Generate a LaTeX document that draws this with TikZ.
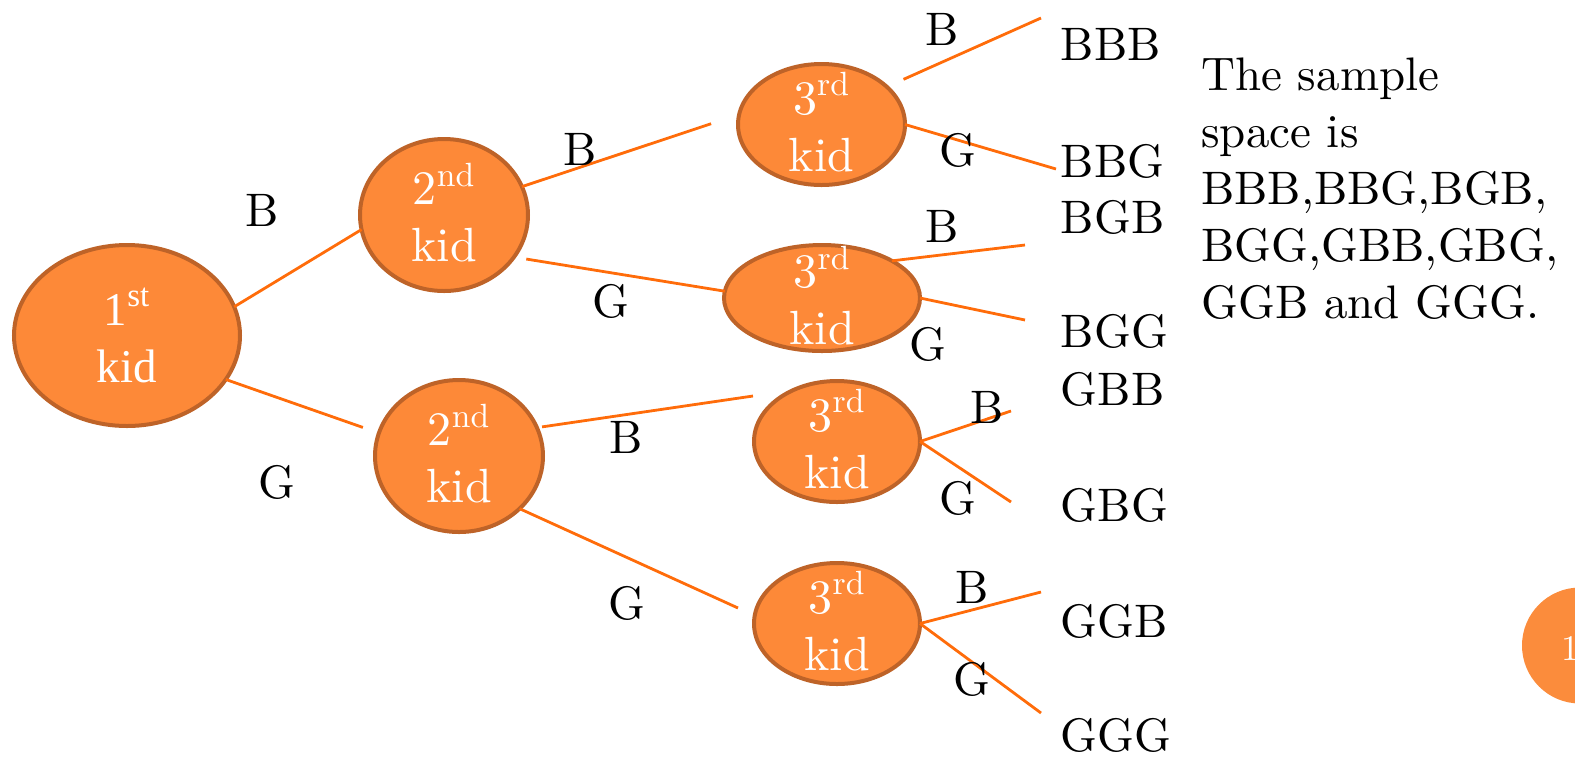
\documentclass[tikz,border=0pt]{standalone}
\usepackage{fontspec}
\setmainfont{lmroman10-regular}[Extension=.otf]
\newfontfamily\timesfont{Liberation Serif}
\usetikzlibrary{shapes.geometric}

\definecolor{kidfill}{RGB}{253,137,56}
\definecolor{kidedge}{RGB}{190,99,40}
\definecolor{branchcol}{RGB}{255,108,10}
\definecolor{pagefill}{RGB}{251,140,60}

% two-line caption of a child node, hung so that "kid" sits below the centre
\newcommand{\kidtext}[2]{\raisebox{-23.25pt}[0pt][0pt]{\begin{tabular}[b]{@{}c@{}}#1\textsuperscript{#2}\\kid\end{tabular}}}

\begin{document}
\begin{tikzpicture}[x=0.5pt,y=-0.5pt,
  kid/.style={ellipse, draw=kidedge, line width=2pt, fill=kidfill,
    inner sep=0pt, outer sep=0pt, text=white,
    font=\fontsize{24}{28.5}\selectfont},
  firstkid/.style={kid, font=\timesfont\fontsize{23.5}{28.5}\selectfont},
  branch/.style={draw=branchcol, line width=1.4pt},
  choice/.style={inner sep=0pt, anchor=base, font=\fontsize{23.5}{28.5}\selectfont},
  outcome/.style={inner sep=0pt, anchor=base west, font=\fontsize{23.5}{28.5}\selectfont}]
\useasboundingbox (0,0) rectangle (1575,757);

% the tree of children
\node[firstkid, minimum width=113pt, minimum height=90.5pt] (n1) at (127,335.5) {\kidtext{1}{st}};
\node[kid, minimum width=84pt, minimum height=76pt] (n2a) at (444,215) {\kidtext{2}{nd}};
\node[kid, minimum width=84pt, minimum height=76pt] (n2b) at (459,456) {\kidtext{2}{nd}};
\node[kid, minimum width=83.5pt, minimum height=60.5pt] (n3a) at (821.5,124.5) {\kidtext{3}{rd}};
\node[kid, minimum width=98pt, minimum height=53pt] (n3b) at (822,298) {\kidtext{3}{rd}};
\node[kid, minimum width=83pt, minimum height=60.5pt] (n3c) at (837,441.5) {\kidtext{3}{rd}};
\node[kid, minimum width=83pt, minimum height=60.5pt] (n3d) at (837,623.5) {\kidtext{3}{rd}};

% loose branch ends
\coordinate (e3c) at (753,396);
\coordinate (e3d) at (738,608);
\coordinate (eBBB) at (1041,18);
\coordinate (eBBG) at (1056,169);
\coordinate (eBGB) at (1025,245);
\coordinate (eBGG) at (1025,320);
\coordinate (eGBB) at (1011,411);
\coordinate (eGBG) at (1011,502);
\coordinate (eGGB) at (1041,592);
\coordinate (eGGG) at (1041,713);

% branches
\draw[branch] (n1.15) -- (n2a.190);
\draw[branch, shorten >=8.5pt] (n1.-24.7) -- (n2b.164);
\draw[branch, shorten >=14.8pt] (n2a.20.3) -- (n3a.173.4);
\draw[branch, shorten <=6.25pt] (n2a.-31) -- (n3b.176);
\draw[branch, shorten <=2.6pt] (n2b.20.1) -- (e3c);
\draw[branch] (n2b.-41) -- (e3d);
\draw[branch, shorten <=9.15pt] (n3a.30.3) -- (eBBB);
\draw[branch] (n3a.east) -- (eBBG);
\draw[branch] (n3b.28.2) -- (eBGB);
\draw[branch] (n3b.east) -- (eBGG);
\draw[branch] (n3c.east) -- (eGBB);
\draw[branch] (n3c.east) -- (eGBG);
\draw[branch] (n3d.east) -- (eGGB);
\draw[branch] (n3d.east) -- (eGGG);

% branch labels
\node[choice] (b1) at (262,226) {B};
\node[choice] (g1) at (277,498) {G};
\node[choice] (b2) at (580,165) {B};
\node[choice] (g2) at (611,317) {G};
\node[choice] (b3) at (626,453) {B};
\node[choice] (g3) at (627,619) {G};
\node[choice] (b4) at (942,45) {B};
\node[choice] (g4) at (958,166) {G};
\node[choice] (b5) at (942,242) {B};
\node[choice] (g5) at (928,360) {G};
\node[choice] (b6) at (987,423) {B};
\node[choice] (g6) at (958,514) {G};
\node[choice] (b7) at (972,603) {B};
\node[choice] (g7) at (972,695) {G};

% outcomes
\node[outcome] (bbb) at (1060.5,60) {BBB};
\node[outcome] (bbg) at (1060.5,177) {BBG};
\node[outcome] (bgb) at (1060.5,233) {BGB};
\node[outcome] (bgg) at (1060.5,347) {BGG};
\node[outcome] (gbb) at (1060.5,405) {GBB};
\node[outcome] (gbg) at (1060.5,521) {GBG};
\node[outcome] (ggb) at (1060.5,637) {GGB};
\node[outcome] (ggg) at (1060.5,751) {GGG};

% summary (a multi-line node sits on the baseline of its last line)
\node[outcome, align=left] (space) at (1201,318)
  {The sample\\space is\\BBB,BBG,BGB,\\BGG,GBB,GBG,\\GGB and GGG.};

% slide number badge
\node[circle, fill=pagefill, minimum size=58pt, inner sep=0pt, outer sep=0pt] (pg) at (1580,645.5) {};
\node[inner sep=0pt, anchor=base west, text=white, font=\fontsize{18}{20}\selectfont] (pgn) at (1561,660) {1};
\end{tikzpicture}
\end{document}
